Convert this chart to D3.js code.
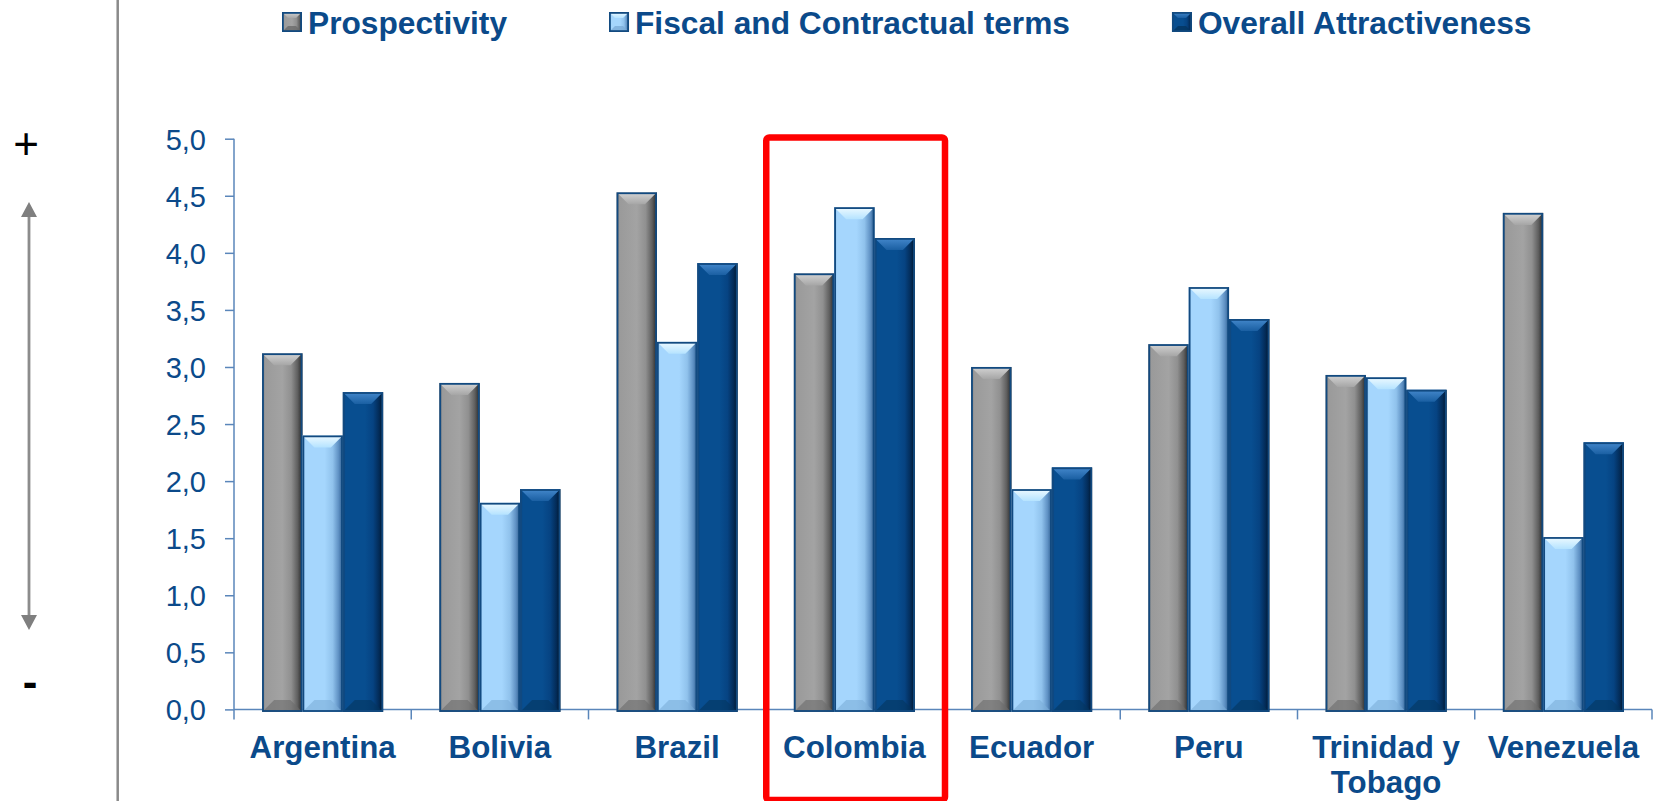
<!DOCTYPE html>
<html>
<head>
<meta charset="utf-8">
<script src="https://cdn.jsdelivr.net/npm/d3@7"></script>
<style>
  html, body { margin: 0; padding: 0; background: #ffffff; }
  svg { display: block; font-family: "Liberation Sans", Arial, sans-serif; }
</style>
</head>
<body>
<svg id="chart" width="1657" height="801"></svg>
<script>
// ---- DATA ----
const categories = ["Argentina", "Bolivia", "Brazil", "Colombia", "Ecuador", "Peru", "Trinidad y Tobago", "Venezuela"];
const seriesNames = ["Prospectivity", "Fiscal and Contractual terms", "Overall Attractiveness"];
const prospectivity = [3.12, 2.86, 4.53, 3.82, 3.00, 3.20, 2.93, 4.35];
const fiscalTerms   = [2.40, 1.81, 3.22, 4.40, 1.93, 3.70, 2.91, 1.51];
const overall       = [2.78, 1.93, 3.91, 4.13, 2.12, 3.42, 2.80, 2.34];
const yTicks = [0, 0.5, 1, 1.5, 2, 2.5, 3, 3.5, 4, 4.5, 5];
const highlighted = "Colombia";

const seriesValues = [prospectivity, fiscalTerms, overall];

// ---- STYLE ----
const textBlue = "#0b4a8a";
const axisBlue = "#5a86ba";
const outline = "#124a80";
const palettes = [
  { side: [["0", "#6e6e6e"], ["0.07", "#9a9a9a"], ["0.5", "#a3a3a3"], ["0.72", "#909090"], ["0.88", "#5f5f5f"], ["1", "#262626"]],
    top: ["#d4d4d4", "#a6a6a6"], bottom: "#6a6a6a" },
  { side: [["0", "#7fb2e2"], ["0.07", "#a5d6fd"], ["0.55", "#a5d6fd"], ["0.75", "#90c2ec"], ["0.9", "#5d8fc2"], ["1", "#2b5b8c"]],
    top: ["#eefaff", "#b5e3ff"], bottom: "#7cadd8" },
  { side: [["0", "#0a3f7a"], ["0.07", "#084e90"], ["0.55", "#084e90"], ["0.75", "#064382"], ["0.9", "#032b57"], ["1", "#001428"]],
    top: ["#4488cc", "#1a5fa2"], bottom: "#04355f" }
];

const svg = d3.select("#chart");
const defs = svg.append("defs");
palettes.forEach((p, i) => {
  const g = defs.append("linearGradient").attr("id", "side" + i)
    .attr("x1", "0").attr("x2", "1").attr("y1", "0").attr("y2", "0");
  p.side.forEach(s => g.append("stop").attr("offset", s[0]).attr("stop-color", s[1]));
  const t = defs.append("linearGradient").attr("id", "top" + i)
    .attr("x1", "0").attr("x2", "0").attr("y1", "0").attr("y2", "1");
  t.append("stop").attr("offset", "0").attr("stop-color", p.top[0]);
  t.append("stop").attr("offset", "1").attr("stop-color", p.top[1]);
});

// ---- SCALES ----
const x0 = d3.scaleBand().domain(categories).range([234, 1652]).paddingInner(0).paddingOuter(0);
const groupFrac = 0.683;
const x1 = d3.scaleBand().domain(seriesNames)
  .range([x0.bandwidth() * (1 - groupFrac) / 2, x0.bandwidth() * (1 + groupFrac) / 2]).padding(0);
const y = d3.scaleLinear().domain([0, 5]).range([709.4, 138.7]);

// ---- LEFT DECORATIONS ----
svg.append("line").attr("x1", 117.7).attr("x2", 117.7).attr("y1", 0).attr("y2", 801)
  .attr("stroke", "#8a8a8a").attr("stroke-width", 2.5);
const arrowX = 29, arrowTop = 202, arrowBot = 630, ah = 15, aw = 8;
svg.append("line").attr("x1", arrowX).attr("x2", arrowX).attr("y1", arrowTop + ah - 1).attr("y2", arrowBot - ah + 1)
  .attr("stroke", "#8c8c8c").attr("stroke-width", 2.8);
svg.append("path").attr("d", `M${arrowX},${arrowTop}L${arrowX + aw},${arrowTop + ah}L${arrowX - aw},${arrowTop + ah}Z`).attr("fill", "#7f7f7f");
svg.append("path").attr("d", `M${arrowX},${arrowBot}L${arrowX + aw},${arrowBot - ah}L${arrowX - aw},${arrowBot - ah}Z`).attr("fill", "#7f7f7f");
svg.append("text").attr("x", 26).attr("y", 159).attr("text-anchor", "middle")
  .attr("font-size", 44).attr("fill", "#000").text("+");
svg.append("text").attr("x", 30).attr("y", 697).attr("text-anchor", "middle")
  .attr("font-size", 44).attr("font-weight", "bold").attr("fill", "#000").text("-");

// ---- AXES ----
const fmt = v => d3.format(".1f")(v).replace(".", ",");
const yAxis = svg.append("g").attr("transform", `translate(${x0.range()[0]},0)`)
  .call(d3.axisLeft(y).tickValues(yTicks).tickFormat(fmt).tickSize(9).tickPadding(19));
yAxis.select(".domain").attr("stroke", axisBlue).attr("stroke-width", 1.5).attr("d", `M0,${y(5)}V${y(0)}`);
yAxis.selectAll(".tick line").attr("stroke", axisBlue).attr("stroke-width", 1.5);
yAxis.selectAll(".tick text").attr("fill", textBlue).attr("font-size", 29)
  .attr("font-family", "'Liberation Sans', Arial, sans-serif").attr("dy", "0.36em");

// category axis baseline
svg.append("line").attr("x1", x0.range()[0]).attr("x2", x0.range()[1]).attr("y1", y(0)).attr("y2", y(0))
  .attr("stroke", axisBlue).attr("stroke-width", 1.5);
const boundaries = categories.map(c => x0(c)).concat([x0.range()[1]]);
svg.append("g").selectAll("line").data(boundaries).join("line")
  .attr("x1", d => d).attr("x2", d => d).attr("y1", y(0)).attr("y2", y(0) + 10)
  .attr("stroke", axisBlue).attr("stroke-width", 1.5);

// ---- BARS ----
const bevel = 12;
const data = categories.map((c, ci) => ({ c, vals: seriesValues.map((arr, si) => ({ s: seriesNames[si], si, v: arr[ci] })) }));
const groups = svg.append("g").selectAll("g.grp").data(data).join("g").attr("class", "grp")
  .attr("transform", d => `translate(${x0(d.c)},0)`);
groups.selectAll("g.bar").data(d => d.vals).join("g").attr("class", "bar").each(function (d) {
  const g = d3.select(this);
  const x = x1(d.s), w = x1.bandwidth();
  const yt = y(d.v), yb = y(0) + 2.5;
  const b = Math.min(bevel, (yb - yt) / 2);
  g.append("rect").attr("x", x).attr("y", yt).attr("width", w).attr("height", yb - yt)
    .attr("fill", `url(#side${d.si})`);
  g.append("path").attr("d", `M${x},${yt}L${x + w},${yt}L${x + w - b},${yt + b}L${x + b},${yt + b}Z`)
    .attr("fill", `url(#top${d.si})`);
  g.append("path").attr("d", `M${x},${yb}L${x + w},${yb}L${x + w - b},${yb - b}L${x + b},${yb - b}Z`)
    .attr("fill", palettes[d.si].bottom).attr("opacity", 0.6);
  g.append("rect").attr("x", x + 0.9).attr("y", yt + 0.9).attr("width", w - 1.8).attr("height", yb - yt - 1.8)
    .attr("fill", "none").attr("stroke", outline).attr("stroke-width", 1.8);
});

// ---- CATEGORY LABELS ----
const labelFont = 31.3;
const labels = svg.append("g").selectAll("text").data(categories).join("text")
  .attr("x", c => x0(c) + x0.bandwidth() / 2).attr("y", y(0) + 49)
  .attr("text-anchor", "middle").attr("font-size", labelFont).attr("font-weight", "bold")
  .attr("fill", textBlue);
labels.each(function (c) {
  const t = d3.select(this);
  const words = c.split(" ");
  const lines = [];
  let cur = [];
  const probe = t.append("tspan");
  words.forEach(w => {
    const test = cur.concat([w]).join(" ");
    probe.text(test);
    if (probe.node().getComputedTextLength() > x0.bandwidth() - 8 && cur.length) {
      lines.push(cur.join(" "));
      cur = [w];
    } else cur.push(w);
  });
  lines.push(cur.join(" "));
  probe.remove();
  lines.forEach((ln, i) => t.append("tspan").attr("x", x0(c) + x0.bandwidth() / 2)
    .attr("dy", i === 0 ? 0 : 34.5).text(ln));
});

// ---- HIGHLIGHT BOX ----
svg.append("rect").attr("x", x0(highlighted) + 0.5).attr("y", y(5) - 1.2)
  .attr("width", x0.bandwidth() + 1.5).attr("height", 800 - (y(5) - 1.2))
  .attr("rx", 3).attr("fill", "none").attr("stroke", "#ff0000").attr("stroke-width", 6.5);

// ---- LEGEND ----
const legend = svg.append("g");
let lx = 282;
seriesNames.forEach((name, i) => {
  const g = legend.append("g").attr("transform", `translate(${lx},12)`);
  const s = 20, b = 6;
  g.append("rect").attr("width", s).attr("height", s).attr("fill", `url(#side${i})`);
  g.append("path").attr("d", `M0,0L${s},0L${s - b},${b}L${b},${b}Z`).attr("fill", `url(#top${i})`);
  g.append("path").attr("d", `M0,${s}L${s},${s}L${s - b},${s - b}L${b},${s - b}Z`).attr("fill", palettes[i].bottom).attr("opacity", 0.8);
  g.append("rect").attr("x", 0.9).attr("y", 0.9).attr("width", s - 1.8).attr("height", s - 1.8)
    .attr("fill", "none").attr("stroke", outline).attr("stroke-width", 1.8);
  const t = g.append("text").attr("x", 26).attr("y", 22.3).attr("font-size", 31.7).attr("font-weight", "bold")
    .attr("fill", textBlue).text(name);
  lx += 26 + t.node().getComputedTextLength() + 102;
});
</script>
</body>
</html>
